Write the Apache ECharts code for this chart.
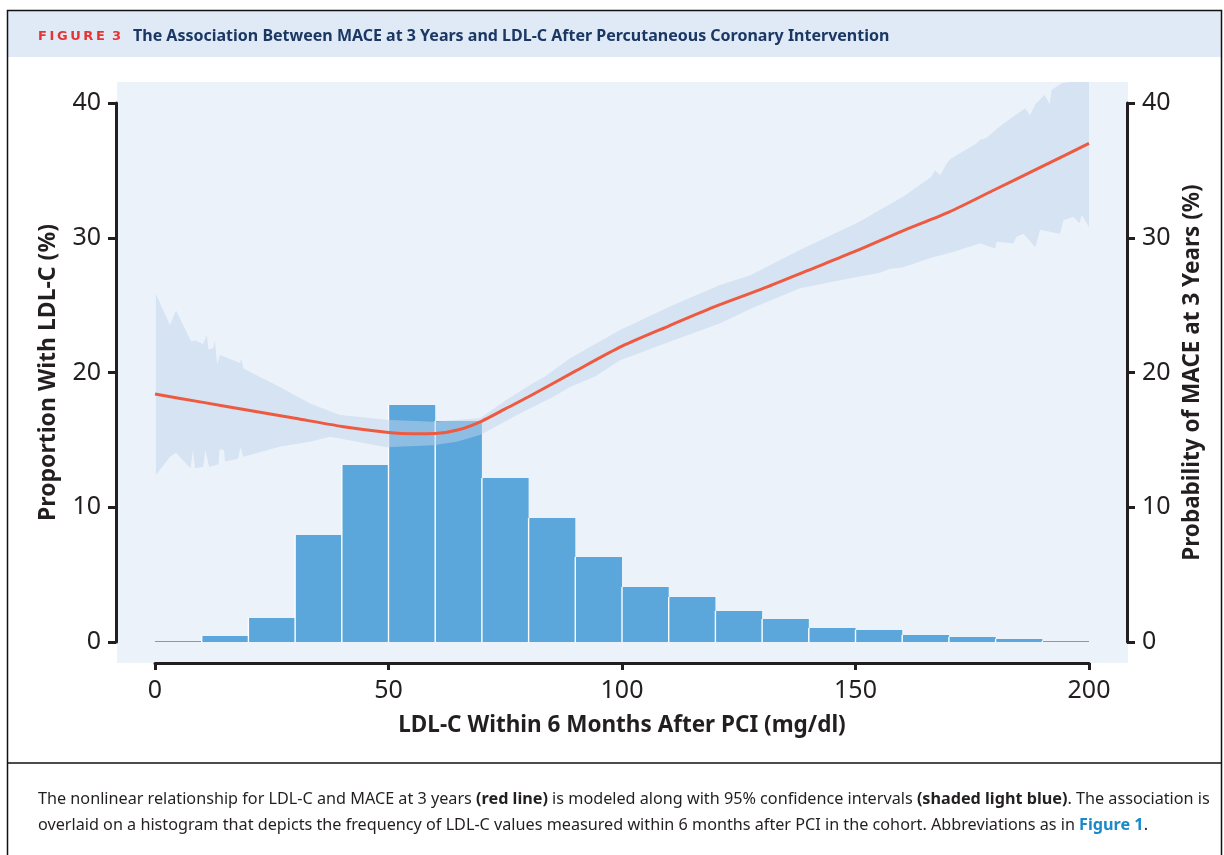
<!DOCTYPE html>
<html>
<head>
<meta charset="utf-8">
<script src="https://cdn.jsdelivr.net/npm/echarts@6/dist/echarts.min.js"></script>
<style>
  html, body { margin: 0; padding: 0; background: #fff; }
  #chart { width: 1224px; height: 855px; }
</style>
</head>
<body>
<div id="chart"></div>
<script>
// Histogram of LDL-C within 6 months after PCI (bins of 10 mg/dl), % of patients
const binEdges = [0, 10, 20, 30, 40, 50, 60, 70, 80, 90, 100, 110, 120, 130, 140, 150, 160, 170, 180, 190, 200];
const binPct = [0.07, 0.45, 1.78, 7.94, 13.14, 17.59, 16.4, 12.17, 9.2, 6.3, 4.08, 3.34, 2.3, 1.71, 1.04, 0.89, 0.52, 0.37, 0.22, 0.07];

// Modeled probability of MACE at 3 years (%)
const curveLdl = [0, 10, 20, 30, 40, 50, 55, 60, 65, 70, 75, 80, 90, 100, 110, 120, 130, 140, 150, 160, 170, 180, 190, 200];
const curveMace = [18.4, 17.8, 17.2, 16.6, 16.0, 15.55, 15.45, 15.47, 15.75, 16.4, 17.3, 18.2, 20.1, 21.95, 23.45, 24.9, 26.2, 27.6, 29.0, 30.5, 31.9, 33.6, 35.3, 37.0];

// 95% confidence interval, upper bound
const upperLdl = [0.2, 3.2, 4.5, 7.6, 7.9, 8.6, 10.3, 11.1, 11.4, 12.5, 12.8, 13.3, 13.9, 18.2, 18.5, 18.9, 26.8, 33.2, 39.6, 49.6, 59.6, 69.6, 75, 80.3, 83.5, 88.9, 99.6, 110.3, 121, 127.4, 138.1, 151, 155.2, 160.2, 166.2, 167, 168.2, 169.5, 170.2, 175.9, 176.6, 178, 180.9, 183.8, 186.3, 187.4, 188.5, 190.5, 191.6, 192, 194.2, 196, 200];
const upperMace = [25.8, 23.5, 24.6, 22.4, 22.3, 22.4, 22.1, 22.8, 21.7, 21.8, 22.4, 20.6, 21.3, 20.7, 21.0, 20.3, 18.9, 17.7, 16.85, 16.5, 16.35, 16.6, 17.9, 19.07, 19.7, 21.05, 23.15, 24.9, 26.5, 27.2, 29.1, 31.2, 32.06, 33.05, 34.5, 35.0, 34.65, 35.5, 35.8, 37.0, 37.25, 37.4, 38.25, 39.0, 39.6, 39.1, 39.9, 40.6, 39.9, 40.96, 41.46, 41.56, 41.56];

// 95% confidence interval, lower bound
const lowerLdl = [0.2, 3.2, 4.5, 7.6, 8.1, 8.6, 10.3, 10.8, 11.6, 13.6, 13.8, 14.8, 15.0, 17.8, 18.3, 18.9, 26.8, 33.2, 37.5, 39.6, 49.6, 59.6, 64.6, 69.6, 78.2, 85.3, 88.9, 94.2, 99.6, 110.3, 121, 128, 138.1, 148.8, 155.2, 157.4, 160, 166, 171, 176.7, 179.9, 180.2, 183.8, 184.5, 186, 188.5, 189.5, 193.8, 194.5, 196.6, 198, 198.4, 200];
const lowerMace = [12.4, 13.75, 14.05, 12.9, 14.25, 12.9, 13.0, 14.25, 13.0, 13.2, 14.3, 14.25, 13.4, 13.6, 14.5, 13.75, 14.5, 14.86, 15.24, 15.1, 14.45, 14.6, 14.86, 15.36, 16.97, 18.2, 18.95, 19.7, 20.9, 22.3, 23.65, 24.8, 26.25, 27.0, 27.4, 27.7, 27.8, 28.5, 28.96, 29.6, 29.2, 29.7, 29.6, 30.1, 30.3, 29.3, 30.6, 30.3, 31.3, 31.56, 31.07, 31.7, 30.8];

const xTicks = { min: 0, max: 200, interval: 50 };
const yTicks = { min: 0, max: 40, interval: 10 };

const INK = '#231f20';
const FONT = '"Noto Sans", "Open Sans", sans-serif';

const chart = echarts.init(document.getElementById('chart'), null, { renderer: 'canvas' });

const axisCommon = {
  axisLine: { show: true, onZero: false, lineStyle: { color: INK, width: 3 } },
  axisTick: { show: true, inside: false, length: 8, lineStyle: { color: INK, width: 3 } },
  splitLine: { show: false },
  axisLabel: { color: INK, fontSize: 25, fontFamily: FONT, margin: 15 },
  nameLocation: 'middle'
};

const option = {
  animation: false,
  backgroundColor: '#ffffff',
  grid: { left: 155, right: 135, top: 103, bottom: 213, containLabel: false },
  xAxis: Object.assign({}, axisCommon, {
    type: 'value',
    min: xTicks.min, max: xTicks.max, interval: xTicks.interval,
    offset: 21,
    axisTick: { show: true, inside: false, length: 7, lineStyle: { color: INK, width: 3 } },
    axisLabel: { color: INK, fontSize: 25, fontFamily: FONT, margin: 15 },
    name: 'LDL-C Within 6 Months After PCI (mg/dl)',
    nameGap: 51,
    nameTextStyle: { color: INK, fontSize: 22.5, fontWeight: 'bold', fontFamily: FONT }
  }),
  yAxis: [
    Object.assign({}, axisCommon, {
      type: 'value', position: 'left', offset: 39,
      min: yTicks.min, max: yTicks.max, interval: yTicks.interval,
      name: 'Proportion With LDL-C (%)',
      nameGap: 56,
      nameTextStyle: { color: INK, fontSize: 23, fontWeight: 'bold', fontFamily: FONT }
    }),
    Object.assign({}, axisCommon, {
      type: 'value', position: 'right', offset: 38,
      min: yTicks.min, max: yTicks.max, interval: yTicks.interval,
      name: 'Probability of MACE at 3 Years (%)',
      nameGap: 54,
      nameTextStyle: { color: INK, fontSize: 22.5, fontWeight: 'bold', fontFamily: FONT }
    })
  ],
  graphic: [
    // plot panel
    { type: 'rect', z: -10, shape: { x: 117, y: 82, width: 1011, height: 581 }, style: { fill: '#ebf2fa' } },
    // header band
    { type: 'rect', z: -10, shape: { x: 8, y: 11, width: 1214, height: 46 }, style: { fill: '#dfeaf6' } },
    // frame and divider
    { type: 'rect', z: 5, shape: { x: 7.5, y: 10.5, width: 1214, height: 860 }, style: { fill: 'none', stroke: '#111', lineWidth: 1.5 } },
    { type: 'line', z: 5, shape: { x1: 7.5, y1: 763, x2: 1222, y2: 763 }, style: { stroke: '#111', lineWidth: 1.5 } },
    {
      type: 'text', left: 38, top: 30,
      style: { text: 'F\u2009I\u2009G\u2009U\u2009R\u2009E \u20093', fill: '#e63431', font: 'bold 13px "DejaVu Sans", sans-serif' }
    },
    {
      type: 'text', left: 133, top: 28,
      style: { text: 'The Association Between MACE at 3 Years and LDL-C After Percutaneous Coronary Intervention', fill: '#1b3764', font: 'bold 16px ' + FONT }
    },
    {
      type: 'text', left: 38, top: 791,
      style: {
        text: 'The nonlinear relationship for LDL-C and MACE at 3 years {b|(red line)} is modeled along with 95% confidence intervals {b|(shaded light blue)}. The association is',
        fill: INK, font: '16.2px ' + FONT,
        rich: { b: { fontWeight: 'bold', fontSize: 16.2, fontFamily: FONT, fill: INK } }
      }
    },
    {
      type: 'text', left: 38, top: 817,
      style: {
        text: 'overlaid on a histogram that depicts the frequency of LDL-C values measured within 6 months after PCI in the cohort. Abbreviations as in {l|Figure 1}.',
        fill: INK, font: '16.2px ' + FONT,
        rich: { l: { fontWeight: 'bold', fontSize: 16.2, fontFamily: FONT, fill: '#1b8ac7' } }
      }
    }
  ],
  series: [
    {
      // histogram bars
      type: 'custom',
      xAxisIndex: 0, yAxisIndex: 0,
      data: binPct.map((v, i) => [binEdges[i], binEdges[i + 1], v]),
      encode: { x: [0, 1], y: 2 },
      renderItem: function (params, api) {
        const lo = api.value(0), hi = api.value(1), v = api.value(2);
        const p0 = api.coord([lo, v]);
        const p1 = api.coord([hi, 0]);
        const children = [
          { type: 'rect', shape: { x: p0[0], y: p0[1], width: p1[0] - p0[0], height: p1[1] - p0[1] }, style: { fill: '#5ba6da' } }
        ];
        if (params.dataIndex > 0) {
          children.push({ type: 'line', shape: { x1: p0[0], y1: p0[1], x2: p0[0], y2: p1[1] }, style: { stroke: '#ffffff', lineWidth: 1.4 } });
        }
        return { type: 'group', children: children };
      },
      z: 2
    },
    {
      // confidence band
      type: 'custom',
      xAxisIndex: 0, yAxisIndex: 1,
      data: [[upperLdl[0], upperMace[0]]],
      clip: false,
      renderItem: function (params, api) {
        const pts = [];
        for (let i = 0; i < upperLdl.length; i++) pts.push(api.coord([upperLdl[i], upperMace[i]]));
        for (let i = lowerLdl.length - 1; i >= 0; i--) pts.push(api.coord([lowerLdl[i], lowerMace[i]]));
        return { type: 'polygon', shape: { points: pts }, style: { fill: 'rgba(191,212,236,0.5)' } };
      },
      z: 3
    },
    {
      type: 'line',
      xAxisIndex: 0, yAxisIndex: 1,
      data: curveLdl.map((x, i) => [x, curveMace[i]]),
      smooth: 0.25,
      symbol: 'none',
      lineStyle: { color: '#ee5a3f', width: 3 },
      z: 4
    }
  ]
};

chart.setOption(option);
</script>
</body>
</html>
